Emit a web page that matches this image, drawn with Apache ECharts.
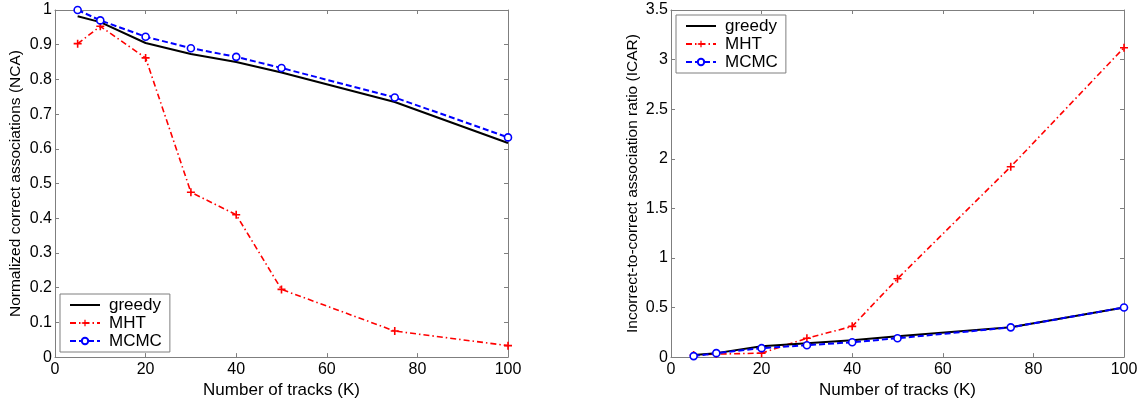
<!DOCTYPE html>
<html><head><meta charset="utf-8">
<script src="https://cdn.jsdelivr.net/npm/echarts@6/dist/echarts.min.js"></script>
<style>html,body{margin:0;padding:0;background:#fff}#c{width:1143px;height:404px}</style>
</head><body><div id="c"></div>
<script>
const tracks = [5, 10, 20, 30, 40, 50, 75, 100];
const ncaGreedy = [0.982, 0.965, 0.905, 0.873, 0.850, 0.820, 0.735, 0.617];
const ncaMHT    = [0.903, 0.953, 0.862, 0.475, 0.410, 0.195, 0.075, 0.033];
const ncaMCMC   = [1.000, 0.970, 0.923, 0.890, 0.865, 0.833, 0.748, 0.633];
const icarGreedy = [0.02, 0.04, 0.11, 0.14, 0.17, 0.21, 0.30, 0.50];
const icarMHT    = [0.02, 0.03, 0.04, 0.19, 0.31, 0.79, 1.92, 3.12];
const icarMCMC   = [0.01, 0.04, 0.09, 0.12, 0.15, 0.19, 0.30, 0.50];
const seriesNames = ['greedy', 'MHT', 'MCMC'];
const xTitle = 'Number of tracks (K)';
const yTitleLeft = 'Normalized correct associations (NCA)';
const yTitleRight = 'Incorrect-to-correct association ratio (ICAR)';

const FONT = 'Liberation Sans, Arial, sans-serif';
const AX = '#7f7f7f';
const plus = 'path://M4,0H6V4H10V6H6V10H4V6H0V4H4Z';
const pair = (xs, ys) => xs.map((x, i) => [x, ys[i]]);

function mkX(gi, pos, labels, name) {
  return {
    type: 'value', gridIndex: gi, min: 0, max: 100, interval: 20, position: pos,
    name: name || '', nameLocation: 'middle', nameGap: 23,
    nameTextStyle: {fontFamily: FONT, fontSize: 17, color: '#000'},
    axisLine: {show: true, onZero: false, lineStyle: {color: AX, width: 1}},
    axisTick: {show: true, inside: true, length: 4, lineStyle: {color: AX}},
    axisLabel: {show: labels, fontFamily: FONT, fontSize: 16, color: '#000', margin: 4},
    splitLine: {show: false}
  };
}
function mkY(gi, pos, labels, max, interval, name, gap) {
  return {
    type: 'value', gridIndex: gi, min: 0, max: max, interval: interval, position: pos,
    name: name || '', nameLocation: 'middle', nameGap: gap || 30,
    nameTextStyle: {fontFamily: FONT, fontSize: 15.5, color: '#000'},
    axisLine: {show: true, onZero: false, lineStyle: {color: AX, width: 1}},
    axisTick: {show: true, inside: true, length: 4, lineStyle: {color: AX}},
    axisLabel: {show: labels, fontFamily: FONT, fontSize: 16, color: '#000', margin: 3},
    splitLine: {show: false}
  };
}
function mkSeries(xi, yi, g, m, c) {
  return [
    {name: seriesNames[0], type: 'line', xAxisIndex: xi, yAxisIndex: yi, data: pair(tracks, g),
     symbol: 'none', lineStyle: {color: '#000', width: 2}, itemStyle: {color: '#000'}, z: 3},
    {name: seriesNames[1], type: 'line', xAxisIndex: xi, yAxisIndex: yi, data: pair(tracks, m),
     symbol: plus, symbolSize: 8, lineStyle: {color: '#ff0000', width: 1.6, type: [6, 3, 1.5, 3]},
     itemStyle: {color: '#ff0000'}, z: 2},
    {name: seriesNames[2], type: 'line', xAxisIndex: xi, yAxisIndex: yi, data: pair(tracks, c),
     symbol: 'circle', symbolSize: 7, lineStyle: {color: '#0000ff', width: 2, type: [6, 3]},
     itemStyle: {color: '#fff', borderColor: '#0000ff', borderWidth: 1.6}, z: 4}
  ];
}
function mkLegend(left, top) {
  return {
    left: left, top: top, orient: 'vertical', itemGap: 0, itemWidth: 30, itemHeight: 8,
    padding: [2, 8, 2, 9], borderColor: AX, borderWidth: 1, backgroundColor: '#fff',
    textStyle: {fontFamily: FONT, fontSize: 17, lineHeight: 18, color: '#000', padding: [0, 0, 0, 4]},
    data: [{name: seriesNames[0], itemStyle: {opacity: 0}}, seriesNames[1], seriesNames[2]], selectedMode: false
  };
}
const chart = echarts.init(document.getElementById('c'));
chart.setOption({
  animation: false,
  grid: [
    {left: 55, top: 10, width: 453, height: 348},
    {left: 671, top: 10, width: 453, height: 348}
  ],
  xAxis: [mkX(0, 'bottom', true, xTitle), mkX(0, 'top', false), mkX(1, 'bottom', true, xTitle), mkX(1, 'top', false)],
  yAxis: [mkY(0, 'left', true, 1, 0.1, yTitleLeft, 31), mkY(0, 'right', false, 1, 0.1),
          mkY(1, 'left', true, 3.5, 0.5, yTitleRight, 30), mkY(1, 'right', false, 3.5, 0.5)],
  legend: [mkLegend(60, 294), mkLegend(676, 15)],
  series: [].concat(mkSeries(0, 0, ncaGreedy, ncaMHT, ncaMCMC), mkSeries(2, 2, icarGreedy, icarMHT, icarMCMC))
});
</script></body></html>
